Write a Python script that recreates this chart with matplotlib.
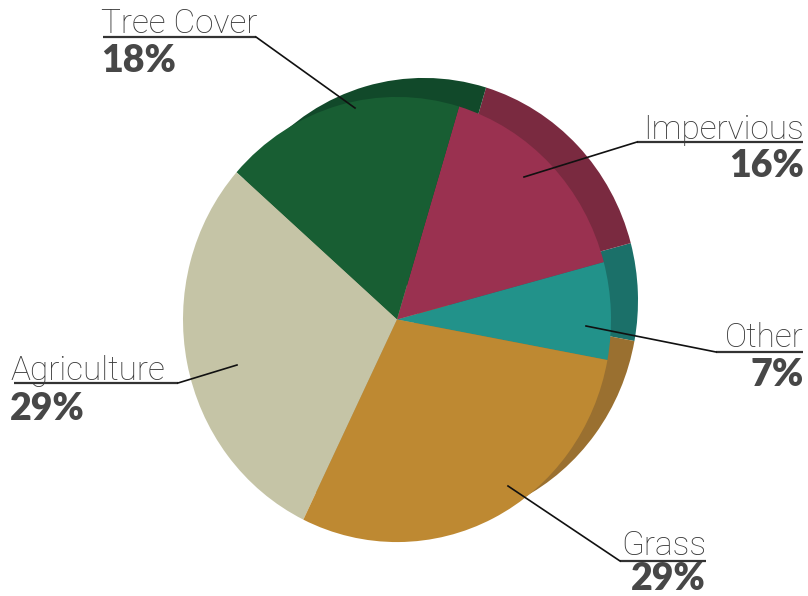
import numpy as np
import matplotlib
matplotlib.use("Agg")
import matplotlib.pyplot as plt

# land cover shares (percent)
categories = ["Other", "Impervious", "Tree Cover", "Agriculture", "Grass"]
values = [7, 16, 18, 29, 29]
face_colors = ["#22928a", "#9a3150", "#185e33", "#c5c4a6", "#be8932"]
side_colors = ["#1b7069", "#7a2a40", "#11492a", "#a9a88d", "#9a7030"]

W, H = 808, 596
K = 1.04                    # vertical stretch of the pie (slightly taller than wide)
CX, CY, R = 397, 319.5, 214  # pie centre / radius in pixels (y from top)
DX, DY = 27, -19            # offset of the back face


def py(y):
    # pixel row (from top) -> data y
    return (H - y) / K


fig = plt.figure(figsize=(W / 100, H / 100), dpi=100)
ax = fig.add_axes([0, 0, 1, 1])

start = -10.5
# back (extruded) face first, then front
ax.pie(values, colors=side_colors, startangle=start, counterclock=True,
       center=(CX + DX, py(CY + DY)), radius=R,
       wedgeprops=dict(linewidth=0))
ax.pie(values, colors=face_colors, startangle=start, counterclock=True,
       center=(CX, py(CY)), radius=R,
       wedgeprops=dict(linewidth=0))

ax.set_xlim(0, W)
ax.set_ylim(0, H / K)
ax.set_aspect("auto")
ax.axis("off")

name_color = "#3a3a3a"
pct_color = "#474747"
layout = {
    "Tree Cover":  dict(x=101, ha="left", base=33, uy=37, pbase=72,
                        ux=(103, 256), end=(355, 108), tail=(256, 37)),
    "Impervious":  dict(x=804, ha="right", base=139, uy=142, pbase=177,
                        ux=(637, 803), end=(524, 177), tail=(637, 142)),
    "Other":       dict(x=804, ha="right", base=347, uy=352, pbase=386,
                        ux=(716, 803), end=(586, 326), tail=(716, 352)),
    "Agriculture": dict(x=10, ha="left", base=380, uy=383, pbase=420,
                        ux=(14, 178), end=(237, 365), tail=(178, 383)),
    "Grass":       dict(x=706, ha="right", base=555, uy=561, pbase=590,
                        ux=(620, 706), end=(508, 486), tail=(620, 561)),
}

for name, val in zip(categories, values):
    L = layout[name]
    ax.text(L["x"], py(L["base"]), name, ha=L["ha"], va="baseline",
            fontsize=24, family="Roboto", weight="light", color=name_color)
    ax.text(L["x"], py(L["pbase"]), f"{val}%", ha=L["ha"], va="baseline",
            fontsize=27, family="Lato", weight="heavy", color=pct_color)
    ax.plot(L["ux"], [py(L["uy"])] * 2, color="#333333", lw=1.6,
            solid_capstyle="butt")
    ax.plot([L["tail"][0], L["end"][0]], [py(L["tail"][1]), py(L["end"][1])],
            color="#111111", lw=1.2)

fig.savefig("out.png", dpi=100)
